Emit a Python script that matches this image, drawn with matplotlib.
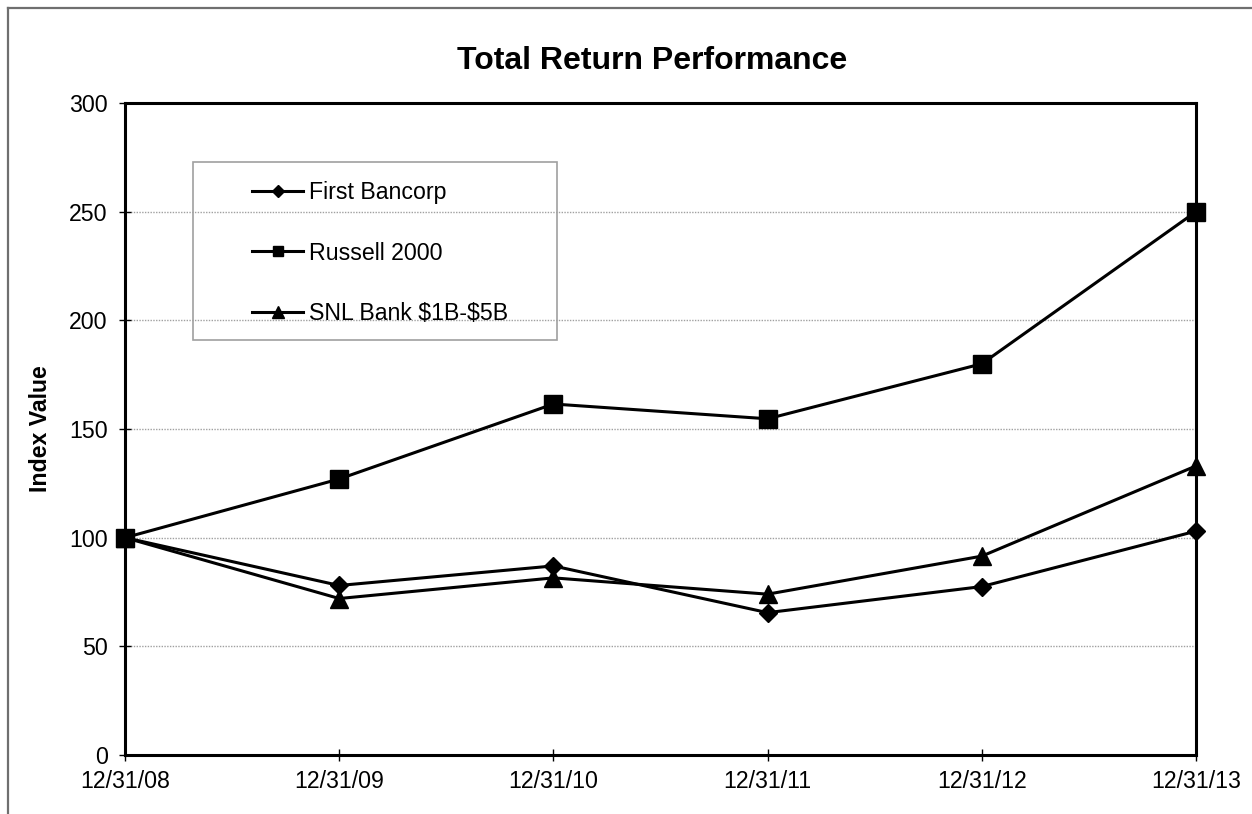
import matplotlib
matplotlib.use("Agg")
import matplotlib.pyplot as plt
from matplotlib.patches import Rectangle
from matplotlib.lines import Line2D

dates = ["12/31/08", "12/31/09", "12/31/10", "12/31/11", "12/31/12", "12/31/13"]
first_bancorp = [100, 78, 87, 65.5, 77.5, 103]
russell_2000 = [100, 127, 161.5, 154.7, 180, 250]
snl_bank = [100, 72, 81.5, 74, 91.5, 133]
yticks = [0, 50, 100, 150, 200, 250, 300]

plt.rcParams['font.family'] = ['Liberation Sans', 'DejaVu Sans']

W, H = 1252, 814
fig = plt.figure(figsize=(W / 100, H / 100), dpi=100)

def fx(px):
    return px / W

def fy(py):
    return (H - py) / H

# outer frame (top and left only)
fig.add_artist(Line2D([fx(8), fx(W + 5)], [fy(8), fy(8)], transform=fig.transFigure,
                      color='#6f6f6f', linewidth=1.6))
fig.add_artist(Line2D([fx(8), fx(8)], [fy(8), fy(H + 5)], transform=fig.transFigure,
                      color='#6f6f6f', linewidth=1.6))

ax = fig.add_axes([fx(125), fy(755), (1196 - 125) / W, (755 - 103) / H])
x = list(range(len(dates)))
lw = 2.2
l1, = ax.plot(x, first_bancorp, color='black', lw=lw, marker='D', markersize=9.3,
              label='First Bancorp', clip_on=False, zorder=3)
l2, = ax.plot(x, russell_2000, color='black', lw=lw, marker='s', markersize=12.5,
              label='Russell 2000', clip_on=False, zorder=3)
l3, = ax.plot(x, snl_bank, color='black', lw=lw, marker='^', markersize=13,
              label='SNL Bank \\$1B-\\$5B', clip_on=False, zorder=3)

for side in ['left', 'bottom', 'top', 'right']:
    ax.spines[side].set_linewidth(2.2)

ax.set_xlim(0, len(dates) - 1)
ax.set_ylim(0, 300)
ax.set_yticks(yticks)
ax.set_xticks(x)
ax.set_xticklabels(dates)
ax.tick_params(axis='both', labelsize=16.7, direction='inout', length=9, width=1, color='black')
ax.tick_params(axis='x', pad=6)
ax.tick_params(axis='y', pad=8)
ax.yaxis.grid(True, color='#a0a0a0', linestyle=(0, (1, 1)), linewidth=1)
ax.set_axisbelow(True)

fig.text(fx(652), fy(61), 'Total Return Performance', fontsize=23, fontweight='bold',
         ha='center', va='center')
ax.set_ylabel('Index Value', fontsize=16.7, fontweight='bold', labelpad=12)

# legend box
fig.add_artist(Rectangle((fx(193), fy(340)), (557 - 193) / W, (340 - 162) / H,
                         transform=fig.transFigure, fill=False, edgecolor='#a0a0a0',
                         linewidth=1.2))
leg = ax.legend(loc='upper left', bbox_to_anchor=(fx(252), fy(181)),
                bbox_transform=fig.transFigure, fontsize=16.7, frameon=False,
                handlelength=2.2, handletextpad=0.25, labelspacing=1.62,
                borderpad=0, borderaxespad=0)
sizes = [6.0, 7.5, 8.0]
for h, s in zip(leg.legend_handles, sizes):
    h.set_markersize(s)

fig.savefig('out.png', dpi=100)
